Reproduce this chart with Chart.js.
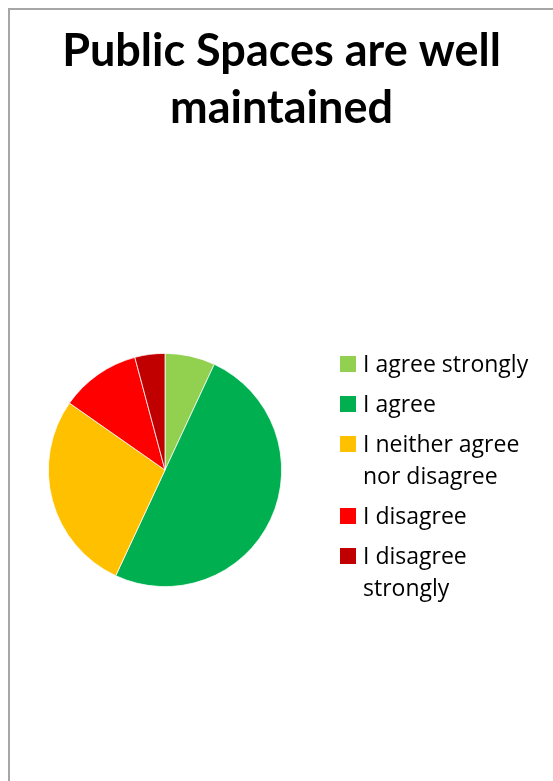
<!DOCTYPE html>
<html>
<head>
<meta charset="utf-8">
<script src="https://cdn.jsdelivr.net/npm/chart.js@4"></script>
<style>
  html, body { margin: 0; padding: 0; background: #fff; }
  #frame {
    position: absolute; left: 8px; top: 8px; width: 600px; height: 800px;
    border-top: 2px solid #a6a6a6; border-left: 2px solid #a6a6a6;
  }
  #wrap { position: absolute; left: 10px; top: 10px; width: 543px; height: 771px; }
  #legend {
    position: absolute; left: 340px; top: 347px;
    font-family: "Open Sans", sans-serif; font-size: 23px; color: #000;
  }
  .item { display: flex; align-items: flex-start; margin-bottom: 8px; line-height: 32px; }
  .box { width: 16px; height: 16px; margin-top: 9px; margin-right: 7px; flex: none; }
</style>
</head>
<body>
<div id="frame"></div>
<div id="wrap"><canvas id="myChart"></canvas></div>
<div id="legend"></div>
<script>
const titleLines = ["Public Spaces are well", "maintained"];
const categories = [
  "I agree strongly",
  "I agree",
  ["I neither agree", "nor disagree"],
  "I disagree",
  ["I disagree", "strongly"],
];
const responses = [5, 36, 20, 8, 3];
const sliceColors = ["#92d050", "#00b050", "#ffc000", "#ff0000", "#c00000"];

// legend drawn as html so the long labels can wrap like the original
const legendEl = document.getElementById("legend");
categories.forEach((label, i) => {
  const text = Array.isArray(label) ? label.join("<br>") : label;
  legendEl.innerHTML += `<div class="item"><span class="box" style="background:${sliceColors[i]}"></span><span>${text}</span></div>`;
});

const ctx = document.getElementById("myChart").getContext("2d");
new Chart(ctx, {
  type: "pie",
  data: {
    labels: categories,
    datasets: [{
      data: responses,
      backgroundColor: sliceColors,
      borderColor: "#ffffff",
      borderWidth: 0.75,
    }],
  },
  options: {
    responsive: true,
    maintainAspectRatio: false,
    animation: false,
    layout: {
      padding: { left: 38, right: 271, top: 338, bottom: 189 },
    },
    plugins: {
      legend: { display: false },
      tooltip: { enabled: false },
      title: { display: false },
    },
  },
  plugins: [
    {
      // title centred over the whole canvas, not just the pie area
      id: "wideTitle",
      afterDraw(chart) {
        const c = chart.ctx;
        c.save();
        c.font = "bold 45px Lato";
        c.fillStyle = "#000";
        c.textAlign = "center";
        c.textBaseline = "alphabetic";
        titleLines.forEach((line, i) => {
          c.fillText(line, chart.width / 2, 56 + i * 57);
        });
        c.restore();
      },
    },
  ],
});
</script>
</body>
</html>
